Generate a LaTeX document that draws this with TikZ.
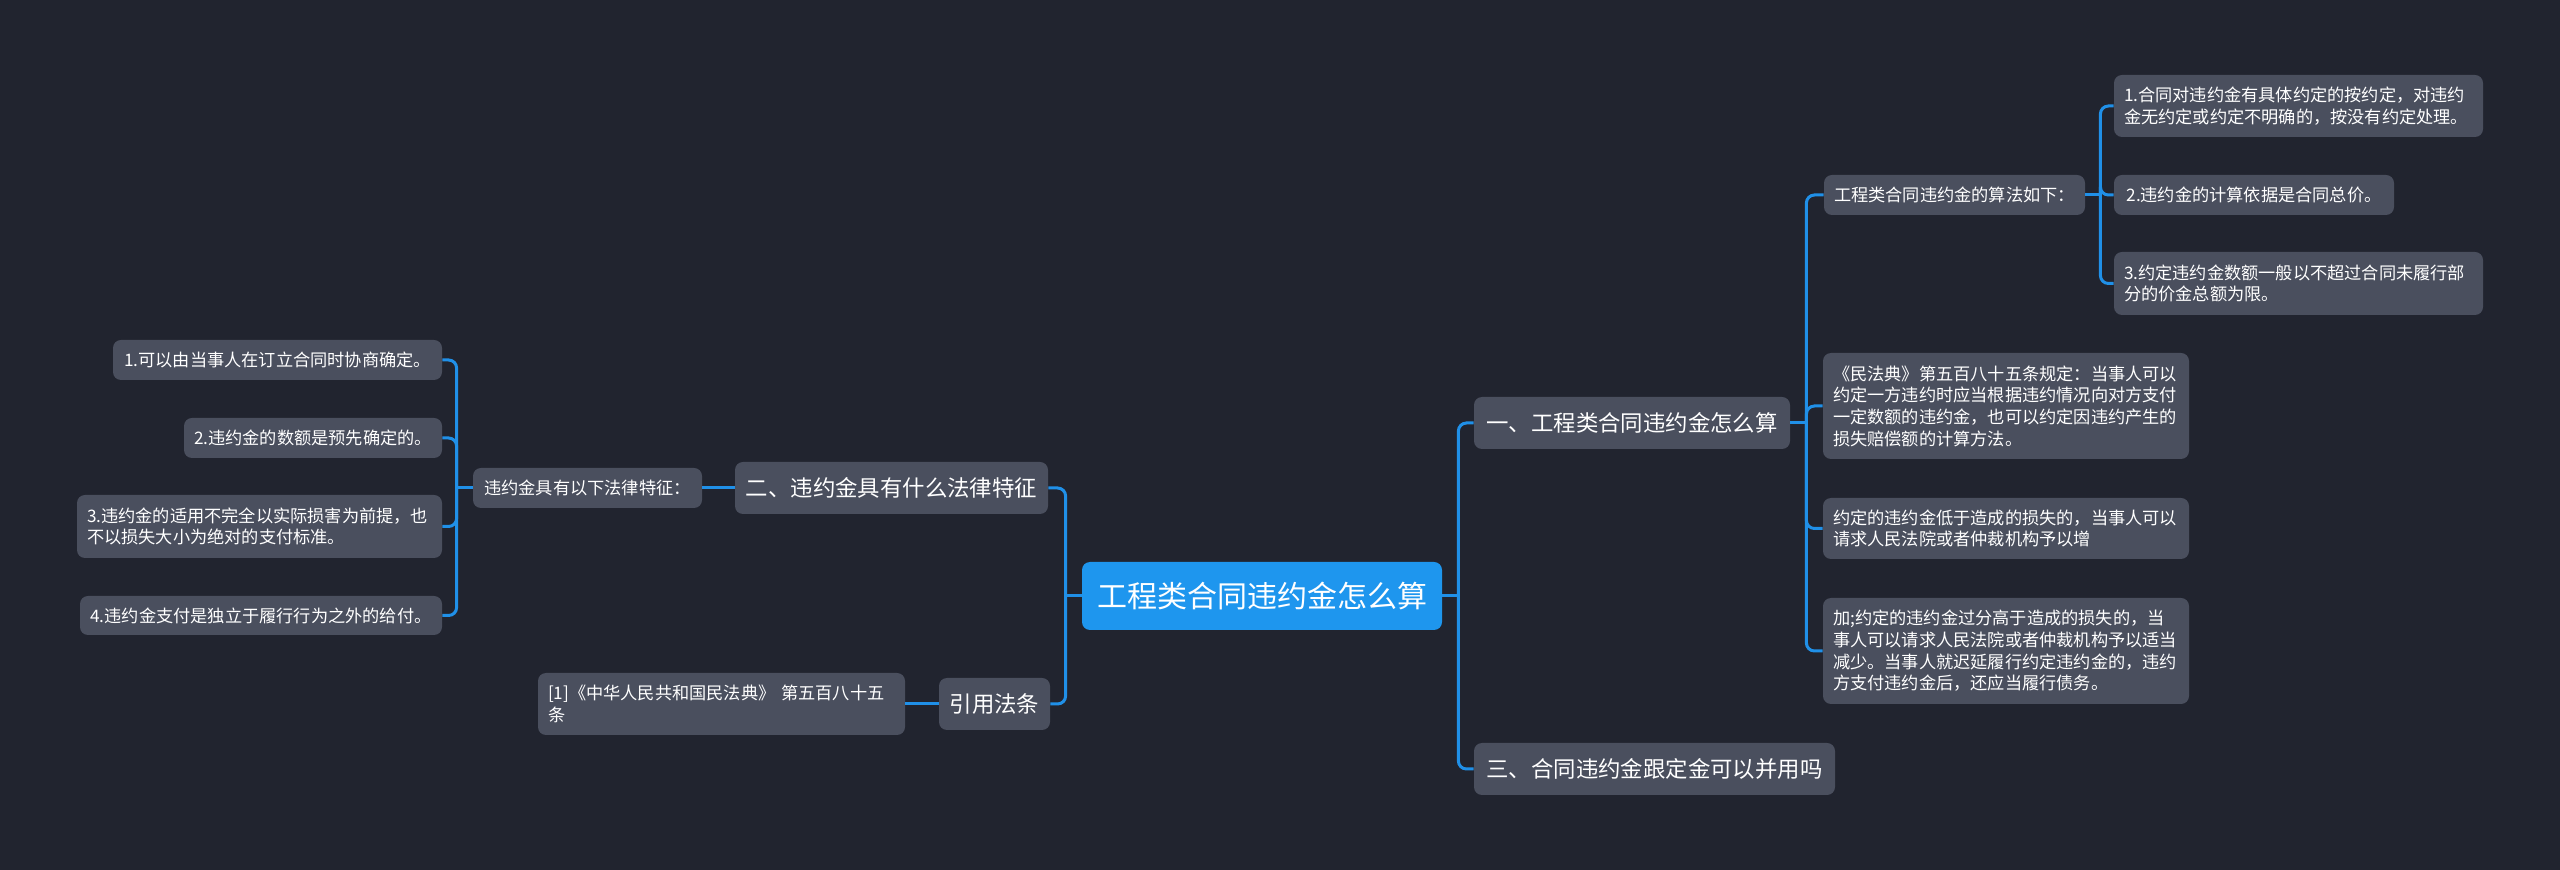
\documentclass[tikz,border=0pt]{standalone}
\usepackage{fontspec}
\newfontfamily\cjk{Noto Sans CJK SC}
\definecolor{mapBg}{HTML}{21242F}
\definecolor{mapNode}{HTML}{4A4F5E}
\definecolor{mapRoot}{HTML}{1E96EE}
\definecolor{mapLine}{HTML}{2090E8}
\begin{document}
\begin{tikzpicture}[x=0.5pt, y=-0.5pt,
  leafbox/.style={fill=mapNode, text=white, rounded corners=4pt, inner xsep=5pt, inner ysep=0pt,
    align=left, font=\cjk\fontsize{8.6}{10.85}\selectfont},
  branchbox/.style={fill=mapNode, text=white, rounded corners=4pt, inner xsep=5pt, inner ysep=0pt,
    minimum height=26pt, font=\cjk\fontsize{11.2}{13}\selectfont},
  rootbox/.style={fill=mapRoot, text=white, rounded corners=4pt, inner sep=0pt,
    minimum height=34pt, font=\cjk\fontsize{15}{18}\selectfont},
  link/.style={draw=mapLine, line width=1.5pt, rounded corners=4pt}]
% Map exported as a 2560x870 canvas
\providecommand{\mapLeafSkip}{8pt}
% Background
\fill[mapBg] (0,0) rectangle (2560,870);
% Root
\node[rootbox, minimum width=180pt] (root) at (1262,596) {工程类合同违约金怎么算};
% Right side
\node[branchbox, minimum width=158pt] (one) at (1632,423) {一、工程类合同违约金怎么算};
\node[branchbox, minimum width=180.5pt] (three) at (1654.5,769) {三、合同违约金跟定金可以并用吗};
\node[leafbox, minimum width=130.5pt, minimum height=20pt] (algo) at (1954.5,195) {工程类合同违约金的算法如下：};
\node[leafbox, text width=174.5pt, minimum height=31pt] (algoA) at (2298.5,106)
  {1.合同对违约金有具体约定的按约定，对违约\\金无约定或约定不明确的，按没有约定处理。};
\node[leafbox, minimum width=140pt, minimum height=20pt] (algoB) at (2254,195) {2.违约金的计算依据是合同总价。};
\node[leafbox, text width=174.5pt, minimum height=31.5pt] (algoC) at (2298.5,283.5)
  {3.约定违约金数额一般以不超过合同未履行部\\分的价金总额为限。};
\node[leafbox, text width=173pt, minimum height=53pt] (law) at (2006,406)
  {《民法典》第五百八十五条规定：当事人可以\\约定一方违约时应当根据违约情况向对方支付\\一定数额的违约金，也可以约定因违约产生的\\损失赔偿额的计算方法。};
\node[leafbox, text width=173pt, minimum height=30.5pt] (low) at (2006,528.5)
  {约定的违约金低于造成的损失的，当事人可以\\请求人民法院或者仲裁机构予以增};
\node[leafbox, text width=173pt, minimum height=53pt] (high) at (2006,651)
  {加;约定的违约金过分高于造成的损失的，当\\事人可以请求人民法院或者仲裁机构予以适当\\减少。当事人就迟延履行约定违约金的，违约\\方支付违约金后，还应当履行债务。};
% Left side
\node[branchbox, minimum width=156.5pt] (two) at (891.5,488) {二、违约金具有什么法律特征};
\node[branchbox, minimum width=55.5pt] (cite) at (994.5,704) {引用法条};
\node[leafbox, minimum width=114.5pt, minimum height=20pt] (feat) at (587.5,488) {违约金具有以下法律特征：};
\node[leafbox, minimum width=164.5pt, minimum height=20pt] (featA) at (277.5,360) {1.可以由当事人在订立合同时协商确定。};
\node[leafbox, minimum width=129pt, minimum height=20pt] (featB) at (313,438) {2.违约金的数额是预先确定的。};
\node[leafbox, text width=172.5pt, minimum height=31.5pt] (featC) at (259.5,526.5)
  {3.违约金的适用不完全以实际损害为前提，也\\不以损失大小为绝对的支付标准。};
\node[leafbox, minimum width=181pt, minimum height=19.5pt] (featD) at (261,615.5) {4.违约金支付是独立于履行行为之外的给付。};
\node[leafbox, text width=173.5pt, minimum height=31pt] (ref) at (721.5,704)
  {[1]《中华人民共和国民法典》 第五百八十五\\条};
% Connectors
\draw[link] (root.east) -- ++(\mapLeafSkip,0) coordinate (rootR);
\foreach \c in {one,three} \draw[link] (rootR) |- (\c.west);
\draw[link] (root.west) -- ++(-\mapLeafSkip,0) coordinate (rootL);
\foreach \c in {two,cite} \draw[link] (rootL) |- (\c.east);
\draw[link] (one.east) -- ++(\mapLeafSkip,0) coordinate (oneBus);
\foreach \c in {algo,law,low,high} \draw[link] (oneBus) |- (\c.west);
\draw[link] (algo.east) -- ++(7.5pt,0) coordinate (algoBus);
\foreach \c in {algoA,algoB,algoC} \draw[link] (algoBus) |- (\c.west);
\draw[link] (two.west) -- (feat.east);
\draw[link] (feat.west) -- ++(-\mapLeafSkip,0) coordinate (featBus);
\foreach \c in {featA,featB,featC,featD} \draw[link] (featBus) |- (\c.east);
\draw[link] (cite.west) -- (ref.east);
\end{tikzpicture}
\end{document}
